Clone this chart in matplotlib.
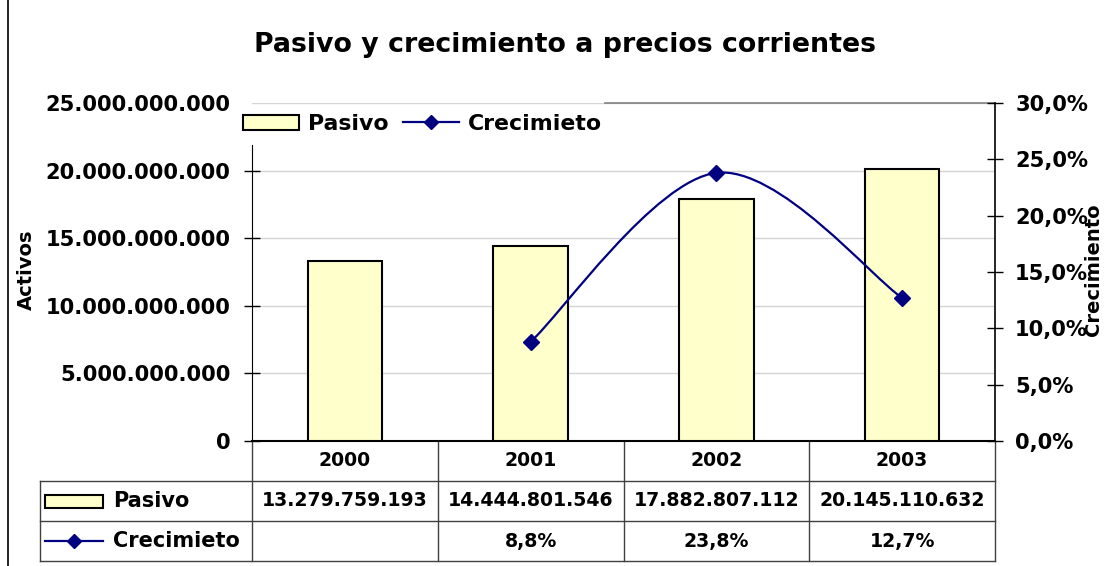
import numpy as np
import matplotlib
matplotlib.use('Agg')
import matplotlib.pyplot as plt
from matplotlib.path import Path
from matplotlib.patches import PathPatch, Rectangle
from matplotlib.lines import Line2D

years = ['2000', '2001', '2002', '2003']
pasivo = [13279759193, 14444801546, 17882807112, 20145110632]
crecimiento = [np.nan, 8.8, 23.8, 12.7]

bar_color = '#FFFFCC'
line_color = '#000080'

plt.rcParams['font.family'] = 'DejaVu Sans'
plt.rcParams['font.weight'] = 'bold'


def miles(v):
    return f'{v:,.0f}'.replace(',', '.')


def pct(v):
    return f'{v:.1f}%'.replace('.', ',')


W, H = 1109, 566
fig = plt.figure(figsize=(W / 100, H / 100), dpi=100)
L, R, T, B = 252, 995, 103, 441
ax = fig.add_axes([L / W, 1 - B / H, (R - L) / W, (B - T) / H])
ax2 = ax.twinx()

x = np.arange(len(years))
ax.bar(x, pasivo, width=0.4, color=bar_color, edgecolor='black', linewidth=1.5, zorder=3)
ax.set_xlim(-0.5, len(years) - 0.5)
ax.set_ylim(0, 25e9)
ax.set_yticks(np.arange(0, 25e9 + 1, 5e9))
ax.yaxis.set_major_formatter(matplotlib.ticker.FuncFormatter(lambda v, p: miles(v)))
ax.set_xticks([])
ax.grid(axis='y', color='#d4d4d4', linewidth=1, zorder=0)
ax.tick_params(axis='y', direction='inout', length=12, width=1, labelsize=15.1, pad=9.5)
for lbl in ax.get_yticklabels():
    lbl.set_fontweight('bold')
ax.spines['top'].set_visible(False)
ax.spines['right'].set_visible(False)
ax.spines['left'].set_bounds(0, 21.9e9)
ax.spines['bottom'].set_linewidth(1.5)
ax.yaxis.get_major_ticks()[-1].tick1line.set_visible(False)
ax.plot([(605 - L) / (R - L), 1], [1, 1], transform=ax.transAxes, color='#808080', lw=1.2, clip_on=False)

# smoothed growth line (bezier through the data points)
pts = [(xi, yi) for xi, yi in zip(x, crecimiento) if not np.isnan(yi)]
pts = np.array(pts, dtype=float)
n = len(pts)
verts = [tuple(pts[0])]
codes = [Path.MOVETO]
for i in range(n - 1):
    p0 = pts[max(i - 1, 0)]
    p1 = pts[i]
    p2 = pts[i + 1]
    p3 = pts[min(i + 2, n - 1)]
    c1 = p1 + (p2 - p0) / 6
    c2 = p2 - (p3 - p1) / 6
    verts += [tuple(c1), tuple(c2), tuple(p2)]
    codes += [Path.CURVE4] * 3
ax2.add_patch(PathPatch(Path(verts, codes), facecolor='none', edgecolor=line_color, lw=1.6, zorder=4))
ax2.plot(x, crecimiento, linestyle='none', marker='D', markersize=8, color=line_color, zorder=5)
ax2.set_ylim(0, 30)
ax2.set_yticks(np.arange(0, 31, 5))
ax2.yaxis.set_major_formatter(matplotlib.ticker.FuncFormatter(lambda v, p: pct(v)))
ax2.tick_params(axis='y', direction='inout', length=12, width=1, labelsize=15.1, pad=8.5)
for lbl in ax2.get_yticklabels():
    lbl.set_fontweight('bold')
for s in ['top', 'left', 'bottom']:
    ax2.spines[s].set_visible(False)
ax2.spines['right'].set_linewidth(1.2)

# legend at top
leg_handles = [Rectangle((0, 0), 1, 1, facecolor=bar_color, edgecolor='black', lw=1.5),
               Line2D([], [], color=line_color, lw=1.6, marker='D', markersize=7)]
leg = fig.legend(leg_handles, ['Pasivo', 'Crecimieto'], loc='center left',
                 bbox_to_anchor=(228 / W, 1 - 124 / H), ncol=2, frameon=False,
                 prop={'size': 15.8, 'weight': 'bold'}, handlelength=2.55, handletextpad=0.4,
                 columnspacing=0.65, borderpad=0.2)

# title and axis labels
fig.text(565 / W, 1 - 45 / H, 'Pasivo y crecimiento a precios corrientes', ha='center', va='center',
         fontsize=19.3, fontweight='bold')
fig.text(26 / W, 1 - 270 / H, 'Activos', rotation=90, ha='center', va='center', fontsize=14, fontweight='bold')
fig.text(1094 / W, 1 - 270 / H, 'Crecimiento', rotation=90, ha='center', va='center', fontsize=14,
         fontweight='bold')

# data table
rh = 40 / (B - T)
lab_x = (40 - L) / (R - L)
tc = '#404040'
tk = dict(transform=ax.transAxes, clip_on=False, color=tc, lw=1)
for i in range(len(years) + 1):
    ax.plot([i / len(years)] * 2, [0, -3 * rh], **tk)
for r in (1, 2, 3):
    ax.plot([lab_x, 1], [-r * rh] * 2, **tk)
ax.plot([lab_x, lab_x], [-rh, -3 * rh], **tk)
fs = 13.6
for i, yr in enumerate(years):
    cx = (i + 0.5) / len(years)
    ax.text(cx, -0.5 * rh, yr, transform=ax.transAxes, ha='center', va='center', fontsize=fs, fontweight='bold')
    ax.text(cx, -1.5 * rh, miles(pasivo[i]), transform=ax.transAxes, ha='center', va='center', fontsize=fs,
            fontweight='bold')
    if not np.isnan(crecimiento[i]):
        ax.text(cx, -2.5 * rh, pct(crecimiento[i]), transform=ax.transAxes, ha='center', va='center',
                fontsize=fs, fontweight='bold')
# table legend keys
kx0 = (45 - L) / (R - L)
kx1 = (103 - L) / (R - L)
kh = 13 / (B - T)
ax.add_patch(Rectangle((kx0, -1.5 * rh - kh / 2), kx1 - kx0, kh, transform=ax.transAxes, clip_on=False,
                       facecolor=bar_color, edgecolor='black', lw=1.5))
ax.plot([kx0, kx1], [-2.5 * rh] * 2, transform=ax.transAxes, clip_on=False, color=line_color, lw=1.6)
ax.plot([(kx0 + kx1) / 2], [-2.5 * rh], transform=ax.transAxes, clip_on=False, color=line_color,
        marker='D', markersize=7)
tx = (113 - L) / (R - L)
ax.text(tx, -1.5 * rh, 'Pasivo', transform=ax.transAxes, ha='left', va='center', fontsize=15, fontweight='bold')
ax.text(tx, -2.5 * rh, 'Crecimieto', transform=ax.transAxes, ha='left', va='center', fontsize=15,
        fontweight='bold')

# outer frame line on the left
fig.add_artist(Line2D([8 / W, 8 / W], [0, 1], color='black', lw=1.2))

fig.savefig('out.png', dpi=100)
